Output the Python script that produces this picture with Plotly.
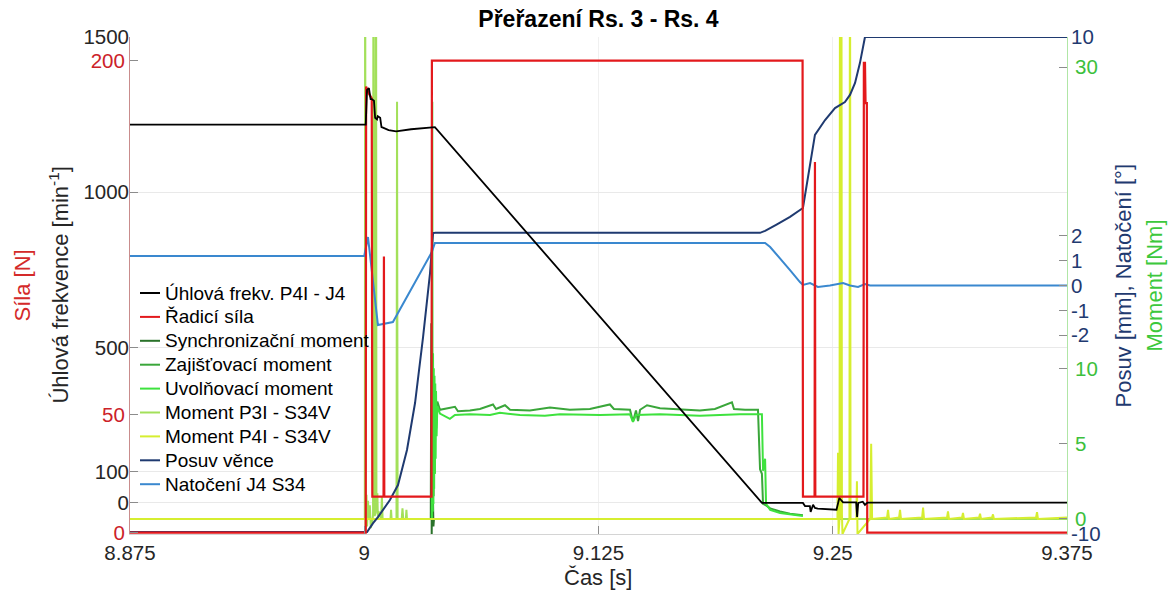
import plotly.graph_objects as go

FONT = "Arial, 'Liberation Sans', Helvetica, sans-serif"

# ---- time axis --------------------------------------------------------------
X_TICKS = [8.875, 9.0, 9.125, 9.25, 9.375]
X_TICK_TEXT = ["8.875", "9", "9.125", "9.25", "9.375"]

# ---- Úhlová frekvence P4I - J4 [min^-1] --------------------------------------
RPM_T = [8.875, 9.0008, 9.0015, 9.0025, 9.0034, 9.0040, 9.0052, 9.0058, 9.0068,
         9.0072, 9.0085, 9.0092, 9.0100, 9.0130, 9.0170, 9.0250, 9.0377, 9.2122,
         9.2341, 9.2352, 9.2378, 9.2382, 9.2395, 9.2405, 9.2420, 9.2520, 9.2535,
         9.2555, 9.2625, 9.2630, 9.2636, 9.2660, 9.2672, 9.2685, 9.375]
RPM = [1218, 1218, 1330, 1335, 1300, 1300, 1295, 1240, 1235,
       1245, 1240, 1210, 1208, 1200, 1196, 1203, 1210, 0,
       0, -10, -10, -29, -6, -16, -18, -22, 16,
       2, 2, -45, 0, 4, -6, 1, 1]

# ---- Řadicí síla [N] --------------------------------------------------------------
FORCE_T = [8.875, 9.0008, 9.0010, 9.0025, 9.0040, 9.0043, 9.0103, 9.0105, 9.0107,
           9.0359, 9.0361, 9.2339, 9.2341, 9.2403, 9.2405, 9.2407, 9.2664, 9.2666,
           9.2672, 9.2675, 9.2682, 9.2684, 9.375]
FORCE = [0, 0, 189, 186, 184, 15.2, 15.2, 117, 15.2,
         15.2, 200, 200, 15.2, 15.2, 157, 15.2, 15.2, 199,
         199, 182, 182, 0, 0]

# ---- Synchronizační moment [Nm] ----------------------------------------------
SYNC_T = [9.0005, 9.0355, 9.0358, 9.0360, 9.0362, 9.0364, 9.0366, 9.0369, 9.0372]
SYNC = [0, 0, 13.0, -1.0, 4.5, 0.5, 2.0, -0.5, 0.0]

# ---- Zajišťovací moment [Nm] -------------------------------------------------
LOCK_T = [9.0361, 9.0364, 9.0366, 9.0368, 9.0370, 9.0373, 9.0376, 9.0380, 9.0384,
          9.0390, 9.0404, 9.0484, 9.0500, 9.0564, 9.0617, 9.0687, 9.0703, 9.0751,
          9.0778, 9.0884, 9.0991, 9.1097, 9.1204, 9.1311, 9.1332, 9.1418, 9.1434,
          9.1450, 9.1461, 9.1472, 9.1509, 9.1578, 9.1685, 9.1791, 9.1871, 9.1962,
          9.1973, 9.2032, 9.2101, 9.2112, 9.2122, 9.2128, 9.2144, 9.2166, 9.2219,
          9.2272, 9.2341]
LOCK = [0, 8.0, 0.5, 9.0, 1.5, 8.5, 3.0, 8.0, 6.0,
        7.8, 7.25, 7.45, 7.15, 7.2, 7.3, 7.6, 7.3, 7.55,
        7.25, 7.2, 7.4, 7.25, 7.3, 7.6, 7.3, 7.25, 6.45,
        7.2, 6.5, 7.25, 7.55, 7.35, 7.3, 7.2, 7.3, 7.75,
        7.3, 7.25, 7.25, 3.3, 3.0, 1.0, 0.9, 0.7, 0.5,
        0.35, 0.25]

# ---- Uvolňovací moment [Nm] --------------------------------------------------
FREE_T = [9.0361, 9.0363, 9.0365, 9.0367, 9.0369, 9.0371, 9.0373, 9.0375, 9.0377,
          9.0379, 9.0381, 9.0383, 9.0386, 9.0390, 9.0404, 9.0457, 9.0484, 9.0564,
          9.0671, 9.0724, 9.0831, 9.0964, 9.1044, 9.1258, 9.1418, 9.1434, 9.1450,
          9.1578, 9.1791, 9.2004, 9.2122, 9.2128, 9.2139, 9.2144, 9.2166, 9.2219,
          9.2341]
FREE = [0, 27.7, 0.5, 11.0, 1.0, 10.0, 2.0, 9.5, 3.0,
        9.0, 4.0, 8.5, 5.5, 7.5, 7.0, 6.65, 6.9, 6.95,
        6.9, 7.05, 6.9, 6.85, 6.95, 6.9, 6.95, 6.45, 6.9,
        6.95, 6.85, 6.95, 6.95, 3.2, 4.0, 1.0, 0.6, 0.4,
        0.2]

# ---- Moment P3I - S34V [Nm] --------------------------------------------------
P3I_T = [8.875, 9.0003, 9.0005, 9.0007, 9.0012, 9.0015, 9.0020, 9.0024, 9.0030,
         9.0035, 9.0045, 9.0047, 9.0049, 9.0055, 9.0061, 9.0063, 9.0065, 9.0070,
         9.0073, 9.0076, 9.0090, 9.0094, 9.0098, 9.0140, 9.0143, 9.0146, 9.0172,
         9.0175, 9.0178, 9.0200, 9.0204, 9.0208, 9.0222, 9.0225, 9.0228, 9.375]
P3I = [0, 0, 45, -0.7, 1.6, -0.5, 1.2, 0, 0.9,
       -0.6, 0, 0.3, 45, 0.2, 0.4, 45, 0.5, 1.7,
       0, 0.5, 0, 1.5, 0, 0, 0.6, 0, 0,
       27.7, 0, 0, 0.7, 0, 0, 0.6, 0, 0]

# ---- Moment P4I - S34V [Nm] --------------------------------------------------
P4I_T = [8.875, 9.2525, 9.2528, 9.2531, 9.2536, 9.2539, 9.2542, 9.2546, 9.2549,
         9.2552, 9.2589, 9.2592, 9.2595, 9.2626, 9.2629, 9.2632, 9.2700, 9.2705,
         9.2710, 9.2790, 9.2795, 9.2800, 9.2854, 9.2859, 9.2864, 9.2977, 9.2982,
         9.2987, 9.3110, 9.3115, 9.3120, 9.3190, 9.3195, 9.3200, 9.3281, 9.3286,
         9.3291, 9.3350, 9.3355, 9.3360, 9.3585, 9.3590, 9.3595, 9.375]
P4I = [0, 0, 4.4, -1.0, 0, 45, 0, 45, 0.3,
       -1.0, 0, 45, 0, 0, 2.5, -1.0, 0, 5.0,
       0, 0.1, 0.6, 0, 0.1, 0.6, 0, 0.1, 0.75,
       0, 0.1, 0.5, 0, 0.1, 0.4, 0, 0.1, 0.35,
       0, 0.1, 0.3, 0, 0.1, 0.45, 0, 0.1]

# ---- Posuv věnce [mm] --------------------------------------------------------
POSUV_T = [8.875, 9.0015, 9.0047, 9.0073, 9.0137, 9.0180, 9.0228, 9.0271, 9.0314,
           9.0351, 9.0367, 9.0380, 9.2112, 9.2139, 9.2200, 9.2272, 9.2341, 9.2405,
           9.2459, 9.2512, 9.2565, 9.2592, 9.2619, 9.2645, 9.2672, 9.375]
POSUV = [-9.92, -9.92, -9.56, -9.32, -8.63, -8.03, -6.62, -4.73, -2.07,
         0.50, 2.11, 2.12, 2.12, 2.20, 2.45, 2.76, 3.12, 6.06,
         6.66, 7.14, 7.38, 7.67, 8.15, 8.95, 10.0, 10.0]

# ---- Natočení J4 S34 [°] -----------------------------------------------------
NAT_T = [8.875, 9.0000, 9.0020, 9.0073, 9.0153, 9.0361, 9.0377, 9.2139, 9.2166,
         9.2219, 9.2272, 9.2325, 9.2341, 9.2379, 9.2421, 9.2485, 9.2555, 9.2592,
         9.2635, 9.2672, 9.2699, 9.375]
NAT = [1.19, 1.19, 1.95, -1.59, -1.47, 1.35, 1.71, 1.71, 1.55,
       1.10, 0.62, 0.14, 0.02, 0.10, -0.06, 0.0, 0.10, 0.0,
       -0.06, 0.06, 0.0, 0.0]

# ---- axis ticks ----------------------------------------------------------------
RPM_TICKS = [0, 100, 500, 1000, 1500]
FORCE_TICKS = [0, 50, 200]
POSUV_TICKS = [-10, -2, -1, 0, 1, 2, 10]
MOMENT_TICKS = [0, 5, 10, 30]

# ---- colours -----------------------------------------------------------------
C_RPM = "#000000"
C_FORCE = "#e3191c"
C_SYNC = "#2a722a"
C_LOCK = "#3aa63a"
C_FREE = "#3ee23e"
C_P3I = "#a3e05a"
C_P4I = "#d6ee30"
C_POSUV = "#1f3a70"
C_NAT = "#3a88cf"
C_TEXT = "#262626"

fig = go.Figure()

# Moments -> main axis (right, green); drawn first, so lowest
moment_series = [
    ("Synchronizační moment", SYNC_T, SYNC, C_SYNC),
    ("Zajišťovací moment", LOCK_T, LOCK, C_LOCK),
    ("Uvolňovací moment", FREE_T, FREE, C_FREE),
    ("Moment P3I - S34V", P3I_T, P3I, C_P3I),
    ("Moment P4I - S34V", P4I_T, P4I, C_P4I),
]
for name, t, v, c in moment_series:
    fig.add_trace(go.Scatter(x=t, y=v, name=name, mode="lines",
                             line=dict(color=c, width=2), yaxis="y",
                             showlegend=False))

# Posuv / Natočení -> right blue axis
fig.add_trace(go.Scatter(x=NAT_T, y=NAT, name="Natočení J4 S34", mode="lines",
                         line=dict(color=C_NAT, width=2), yaxis="y2", showlegend=False))
fig.add_trace(go.Scatter(x=POSUV_T, y=POSUV, name="Posuv věnce", mode="lines",
                         line=dict(color=C_POSUV, width=2), yaxis="y2", showlegend=False))

# Řadicí síla -> left red axis
fig.add_trace(go.Scatter(x=FORCE_T, y=FORCE, name="Řadicí síla", mode="lines",
                         line=dict(color=C_FORCE, width=2.2), yaxis="y3", showlegend=False))

# Úhlová frekvence -> left black axis (top layer)
fig.add_trace(go.Scatter(x=RPM_T, y=RPM, name="Úhlová frekv. P4I - J4", mode="lines",
                         line=dict(color=C_RPM, width=1.8), yaxis="y4", showlegend=False))

tick_common = dict(ticks="inside", ticklen=8, tickcolor="#8c8c8c", zeroline=False,
                   tickmode="array")

fig.update_layout(
    width=1176, height=597,
    margin=dict(l=130, r=109, t=37, b=63),
    paper_bgcolor="white", plot_bgcolor="white",
    font=dict(family=FONT, size=20, color=C_TEXT),
    xaxis=dict(range=[8.875, 9.375], tickvals=X_TICKS, ticktext=X_TICK_TEXT,
               showgrid=True, gridcolor="#f0f0f0", showline=True, linecolor="#d4d4d4",
               tickfont=dict(size=20.5, color=C_TEXT), **tick_common),
    yaxis=dict(side="right", range=[-1, 32], tickvals=MOMENT_TICKS,
               ticktext=[str(v) for v in MOMENT_TICKS], showgrid=False,
               showline=True, linecolor="#b0e6a6", ticklabelstandoff=3,
               tickfont=dict(size=20.5, color="#3cc03c"), **tick_common),
    yaxis2=dict(side="right", overlaying="y", range=[-10, 10], tickvals=POSUV_TICKS,
                ticktext=[str(v) for v in POSUV_TICKS], showgrid=False, showline=False,
                ticklabelstandoff=3,
                tickfont=dict(size=20.5, color="#1f3a70"), **tick_common),
    yaxis3=dict(side="left", overlaying="y", range=[-0.6, 210], tickvals=FORCE_TICKS,
                ticktext=[str(v) for v in FORCE_TICKS], showgrid=False,
                showline=True, linecolor="#c98c8c",
                tickfont=dict(size=20.5, color="#cc2229"), **tick_common),
    yaxis4=dict(side="left", overlaying="y", range=[-100, 1500], tickvals=RPM_TICKS,
                ticktext=[str(v) for v in RPM_TICKS], showgrid=True, gridcolor="#e9e9e9",
                showline=False, tickfont=dict(size=20.5, color=C_TEXT), **tick_common),
    title=dict(text="<b>Přeřazení Rs. 3 - Rs. 4</b>", x=0.5, xref="paper",
               y=1 - 19 / 597, yref="container", xanchor="center", yanchor="middle",
               font=dict(size=23, color="#000000", family=FONT)),
    showlegend=False,
)

# axis titles
axis_titles = [
    ("Úhlová frekvence [min<sup>-1</sup>]", -0.0768, 0.5, C_TEXT),
    ("Síla [N]", -0.1142, 0.5, "#d42a2a"),
    ("Posuv [mm], Natočení [°]", 1.0598, 0.5, "#1f3a70"),
    ("Moment [Nm]", 1.0939, 0.5, "#3cc83c"),
]
for text, x, y, c in axis_titles:
    fig.add_annotation(text=text, x=x, y=y, xref="paper", yref="paper",
                       textangle=-90, showarrow=False, xanchor="center",
                       yanchor="middle", font=dict(size=22, color=c))
fig.add_annotation(text="Čas [s]", x=0.4995, y=-0.0885, xref="paper", yref="paper",
                   showarrow=False, xanchor="center", yanchor="middle",
                   font=dict(size=22, color=C_TEXT))

# legend: short line + label per series, stacked in the lower left of the axes
legend_items = [
    ("Úhlová frekv. P4I - J4", C_RPM),
    ("Řadicí síla", C_FORCE),
    ("Synchronizační moment", C_SYNC),
    ("Zajišťovací moment", C_LOCK),
    ("Uvolňovací moment", C_FREE),
    ("Moment P3I - S34V", C_P3I),
    ("Moment P4I - S34V", C_P4I),
    ("Posuv věnce", C_POSUV),
    ("Natočení J4 S34", C_NAT),
]
plot_w, plot_h = 937.0, 497.0
row0, row_step = 293.0, 23.9
for i, (label, c) in enumerate(legend_items):
    yp = (534.0 - (row0 + i * row_step)) / plot_h
    fig.add_shape(type="line", xref="paper", yref="paper",
                  x0=10 / plot_w, x1=30 / plot_w, y0=yp, y1=yp,
                  line=dict(color=c, width=2))
    fig.add_annotation(text=label, x=33 / plot_w, y=yp, xref="paper", yref="paper",
                       showarrow=False, xanchor="left", yanchor="middle",
                       font=dict(size=19, color="#000000"))

fig.write_html("out.html")
